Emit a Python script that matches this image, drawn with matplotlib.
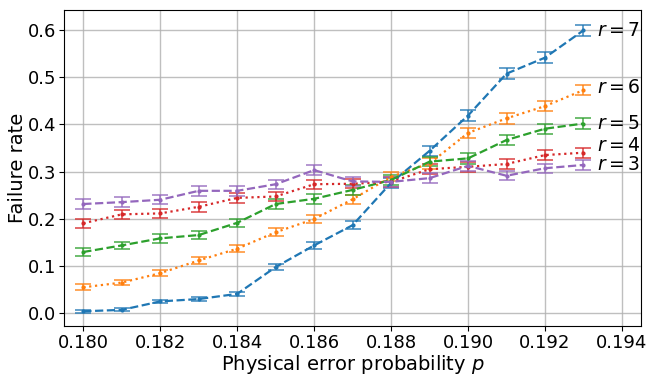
import numpy as np
import matplotlib
matplotlib.use('Agg')
import matplotlib.pyplot as plt

# physical error probabilities
p = [0.180, 0.181, 0.182, 0.183, 0.184, 0.185, 0.186,
     0.187, 0.188, 0.189, 0.190, 0.191, 0.192, 0.193]

rates_r7 = [0.003, 0.006, 0.024, 0.029, 0.040, 0.097, 0.143,
            0.186, 0.276, 0.344, 0.419, 0.508, 0.542, 0.600]
rates_r6 = [0.054, 0.064, 0.084, 0.111, 0.136, 0.171, 0.199,
            0.241, 0.289, 0.317, 0.382, 0.413, 0.439, 0.473]
rates_r5 = [0.129, 0.143, 0.158, 0.165, 0.191, 0.231, 0.242,
            0.261, 0.282, 0.321, 0.328, 0.367, 0.391, 0.402]
rates_r4 = [0.190, 0.209, 0.211, 0.225, 0.244, 0.247, 0.273,
            0.274, 0.278, 0.305, 0.310, 0.316, 0.335, 0.340]
rates_r3 = [0.231, 0.235, 0.240, 0.259, 0.259, 0.273, 0.303,
            0.279, 0.278, 0.286, 0.312, 0.291, 0.307, 0.314]

errs_r7 = [0.003, 0.003, 0.004, 0.004, 0.005, 0.007, 0.008,
           0.009, 0.010, 0.011, 0.011, 0.011, 0.011, 0.011]
errs_r6 = [0.006, 0.006, 0.007, 0.008, 0.008, 0.009, 0.009,
           0.010, 0.010, 0.011, 0.011, 0.011, 0.011, 0.011]
errs_r5 = [0.008, 0.008, 0.009, 0.009, 0.009, 0.010, 0.010,
           0.010, 0.010, 0.010, 0.011, 0.011, 0.011, 0.011]
errs_r4 = [0.009, 0.009, 0.009, 0.010, 0.010, 0.010, 0.010,
           0.010, 0.010, 0.010, 0.010, 0.010, 0.011, 0.011]
errs_r3 = [0.010, 0.010, 0.010, 0.010, 0.010, 0.010, 0.010,
           0.010, 0.010, 0.010, 0.010, 0.010, 0.010, 0.010]

labels = ['$r = 7$', '$r = 6$', '$r = 5$', '$r = 4$', '$r = 3$']
label_y = [0.600, 0.478, 0.402, 0.355, 0.316]

series = [rates_r7, rates_r6, rates_r5, rates_r4, rates_r3]
errors = [errs_r7, errs_r6, errs_r5, errs_r4, errs_r3]
colors = ['tab:blue', 'tab:orange', 'tab:green', 'tab:red', 'tab:purple']
styles = ['--', ':', '--', ':', '--']

fig, ax = plt.subplots(figsize=(6.47, 3.75), dpi=100)

for rates, errs, c, ls, lab, ly in zip(series, errors, colors, styles, labels, label_y):
    eb = ax.errorbar(p, rates, yerr=errs, color=c, linestyle=ls, marker='.',
                     markersize=4, linewidth=1.6, capsize=5.5, elinewidth=1.3,
                     capthick=1.3)
    # error bars slightly lighter
    for part in eb[1]:
        part.set_alpha(0.75)
    for part in eb[2]:
        part.set_alpha(0.75)
    ax.text(p[-1] + 0.00035, ly, lab, fontsize=13.5, va='center', ha='left')

ax.set_xlim(0.1795, 0.1945)
ax.set_ylim(-0.028, 0.643)
ax.set_xticks(np.arange(0.180, 0.1945, 0.002))
ax.set_xticklabels(['%.3f' % t for t in np.arange(0.180, 0.1945, 0.002)])
ax.set_yticks([0.0, 0.1, 0.2, 0.3, 0.4, 0.5, 0.6])
ax.tick_params(labelsize=13, pad=2)
ax.grid(True, color='#b0b0b0', linewidth=1.0, alpha=0.8)
ax.set_xlabel('Physical error probability $p$', fontsize=14, labelpad=1)
ax.set_ylabel('Failure rate', fontsize=14, labelpad=1)

fig.subplots_adjust(left=0.099, right=0.991, top=0.973, bottom=0.131)
fig.savefig('out.png', dpi=100)
